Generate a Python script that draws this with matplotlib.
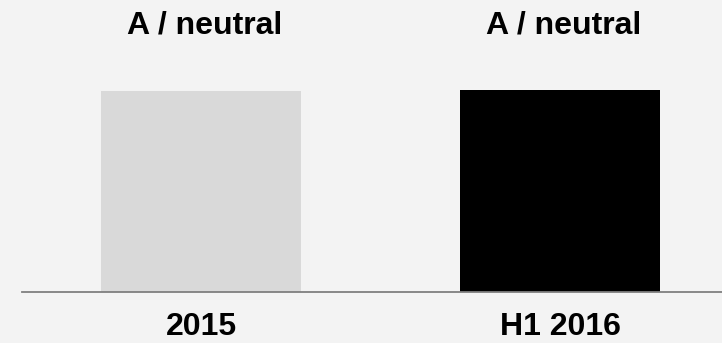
import matplotlib
matplotlib.use("Agg")
import matplotlib.pyplot as plt

# Datos
periodos = ["2015", "H1 2016"]
valores = [99.5, 100.0]
ratings = ["A / neutral", "A / neutral"]
colores = ["#d9d9d9", "#000000"]

plt.rcParams["font.family"] = ["Liberation Sans", "DejaVu Sans"]

fig = plt.figure(figsize=(7.22, 3.43), dpi=100, facecolor="#f3f3f3")
# eje desde x=22px hasta el borde derecho, base en y=291.5px
ax = fig.add_axes([22 / 722, (343 - 291.5) / 343, 700 / 722, 291.5 / 343])
ax.set_facecolor("#f3f3f3")

pos = list(range(len(periodos)))
ax.bar(pos, valores, width=0.557, color=colores)

ax.set_xlim(-0.4986, 1.451)
ax.set_ylim(0, 145)

for s in ["top", "left", "right"]:
    ax.spines[s].set_visible(False)
ax.spines["bottom"].set_color("#7f7f7f")
ax.spines["bottom"].set_linewidth(1.3)
ax.set_xticks([])
ax.set_yticks([])

trans = ax.get_xaxis_transform()
for p, r, lab in zip(pos, ratings, periodos):
    ax.text(p + 0.01, (291.5 - 34) / 291.5, r, transform=trans, ha="center",
            va="baseline", fontsize=23, fontweight="bold")
    ax.text(p, -(335 - 291.5) / 291.5, lab, transform=trans, ha="center",
            va="baseline", fontsize=23, fontweight="bold", clip_on=False)

fig.savefig("out.png", dpi=100, facecolor=fig.get_facecolor())
